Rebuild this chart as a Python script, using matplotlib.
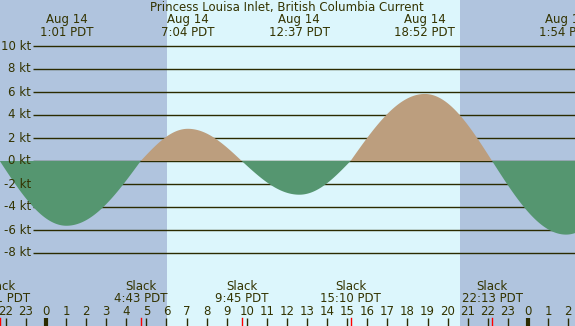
import numpy as np
import matplotlib
matplotlib.use("Agg")
import matplotlib.pyplot as plt

# ---- data (hours relative to 00:00 Aug 14) ----
event_hours = [-2.30, 1.017, 4.717, 7.067, 9.75, 12.617, 15.167, 18.867, 22.217, 25.90, 29.3]
event_knots = [0.0, -5.63, 0.0, 2.80, 0.0, -2.93, 0.0, 5.83, 0.0, -6.40, 0.0]

max_hours = [1.017, 7.067, 12.617, 18.867, 25.90]
max_dates = ["Aug 14", "Aug 14", "Aug 14", "Aug 14", "Aug 15"]
max_labels = ["1:01 PDT", "7:04 PDT", "12:37 PDT", "18:52 PDT", "1:54 PDT"]

slack_hours = [-2.315, 4.717, 9.75, 15.167, 22.217]
slack_labels = ["21:41 PDT", "4:43 PDT", "9:45 PDT", "15:10 PDT", "22:13 PDT"]

sunrise, sunset = 6.01, 20.62
hour_ticks = list(range(-2, 27))
hour_labels = [str(h % 24) for h in hour_ticks]
y_ticks = [-8, -6, -4, -2, 0, 2, 4, 6, 8, 10]

title = "Princess Louisa Inlet, British Columbia Current"

# ---- styling ----
W, H = 575, 326
night = "#b0c4de"
day = "#dcf6fc"
ebb_c = "#559670"
flood_c = "#bc9e7e"
ink = "#2b2b00"
txt = "#333300"
FS = 8.5
px_per_h = 20.08
x0_px = 46
px_per_kt = 11.5
y0_px = 161

fig = plt.figure(figsize=(W / 100, H / 100), dpi=100)
ax = fig.add_axes([0, 0, 1, 1])
xmin = -x0_px / px_per_h
xmax = (W - x0_px) / px_per_h
ax.set_xlim(xmin, xmax)
ax.set_ylim(-(H - y0_px) / px_per_kt, y0_px / px_per_kt)
ax.axis("off")
fig.patch.set_facecolor(night)

ax.axvspan(xmin, sunrise, color=night, lw=0, zorder=0)
ax.axvspan(sunrise, sunset, color=day, lw=0, zorder=0)
ax.axvspan(sunset, xmax, color=night, lw=0, zorder=0)

# grid lines
gx_start = (33 - x0_px) / px_per_h
for yv in y_ticks:
    ax.plot([gx_start, xmax], [yv, yv], color=ink, lw=1.0, zorder=1, solid_capstyle="butt")
    ax.text(31 / W, yv, f"{yv} kt", transform=ax.get_yaxis_transform(),
            ha="right", va="center", fontsize=FS, color=txt, zorder=5)

# curve: quarter-sine between slack and extreme events
t = np.linspace(xmin, xmax, 3000)
v = np.zeros_like(t)
eh = np.array(event_hours)
ek = np.array(event_knots)
for i in range(len(eh) - 1):
    m = (t >= eh[i]) & (t <= eh[i + 1])
    f = (t[m] - eh[i]) / (eh[i + 1] - eh[i])
    if ek[i] == 0:
        v[m] = ek[i + 1] * np.sin(np.pi / 2 * f)
    else:
        v[m] = ek[i] * np.cos(np.pi / 2 * f)
ax.fill_between(t, 0, v, where=v >= 0, interpolate=True, color=flood_c, lw=0, zorder=2)
ax.fill_between(t, 0, v, where=v <= 0, interpolate=True, color=ebb_c, lw=0, zorder=2)

xt = ax.get_xaxis_transform()
fy = lambda p: 1 - p / H

ax.text(287 / px_per_h + xmin, fy(7), title, transform=xt, ha="center", va="center",
        fontsize=FS, color=txt, zorder=5)
for h, d, l in zip(max_hours, max_dates, max_labels):
    ax.text(h, fy(20), d, transform=xt, ha="center", va="center", fontsize=FS, color=txt, zorder=5)
    ax.text(h, fy(32), l, transform=xt, ha="center", va="center", fontsize=FS, color=txt, zorder=5)
for h, l in zip(slack_hours, slack_labels):
    ax.text(h, fy(287), "Slack", transform=xt, ha="center", va="center", fontsize=FS, color=txt, zorder=5)
    ax.text(h, fy(299), l, transform=xt, ha="center", va="center", fontsize=FS, color=txt, zorder=5)
    ax.plot([h, h], [0, fy(318)], transform=xt, color="red", lw=1, zorder=4)

for h, l in zip(hour_ticks, hour_labels):
    ax.text(h, fy(311.5), l, transform=xt, ha="center", va="center", fontsize=FS, color=txt, zorder=5)
    ax.plot([h, h], [0, fy(318)], transform=xt, color=ink, lw=3 if h % 24 == 0 else 1, zorder=4,
            solid_capstyle="butt")

fig.savefig("out.png", dpi=100, facecolor=fig.get_facecolor())
